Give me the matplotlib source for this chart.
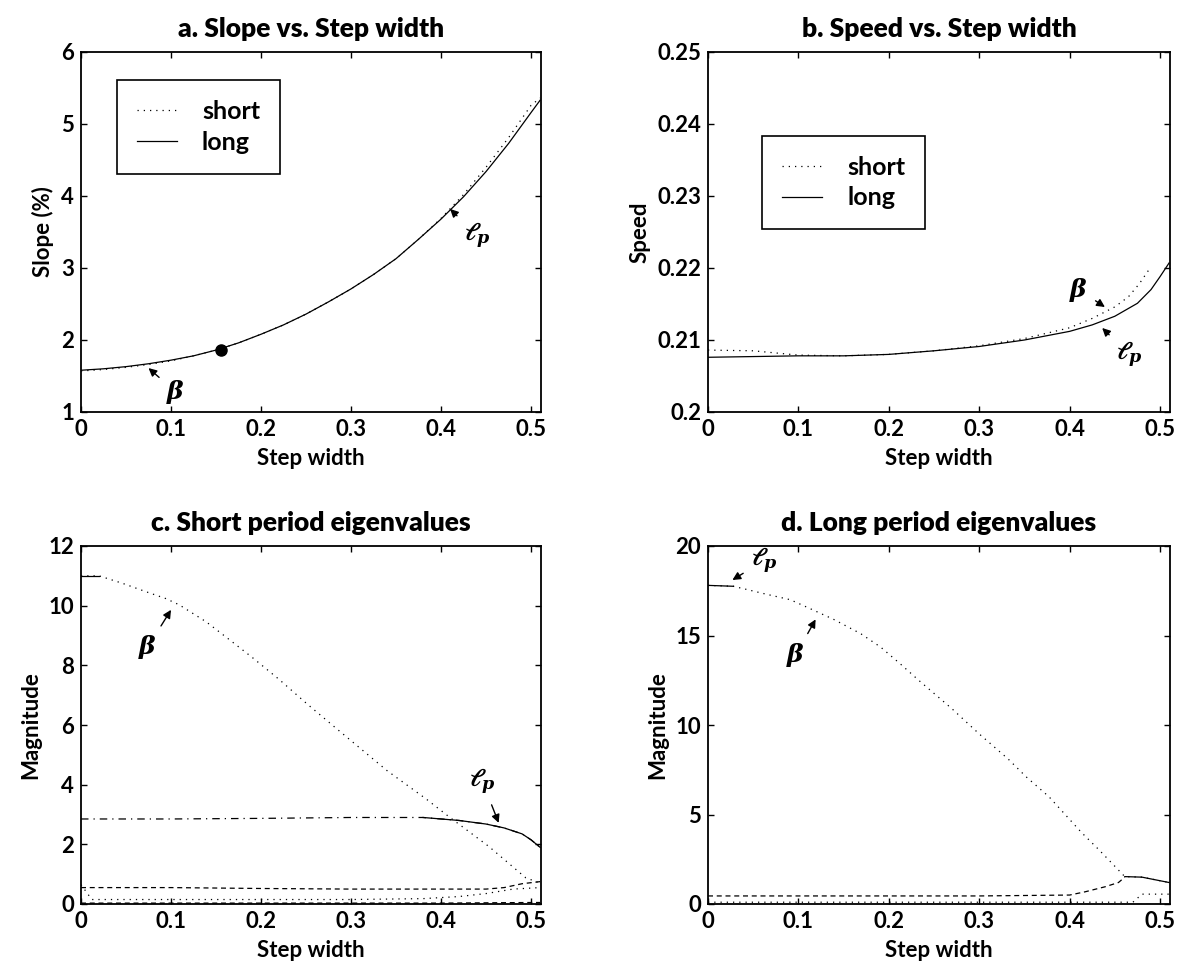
import matplotlib.pyplot as plt
import numpy as np

plt.rcParams['font.family'] = ['Lato', 'DejaVu Sans']
plt.rcParams['font.weight'] = 'bold'
plt.rcParams['axes.labelweight'] = 'bold'
plt.rcParams['axes.titleweight'] = 'heavy'
plt.rcParams['mathtext.fontset'] = 'dejavuserif'

# a. slope vs step width
step_a = [0, 0.025, 0.05, 0.075, 0.1, 0.125, 0.15, 0.175, 0.2, 0.225, 0.25,
          0.275, 0.3, 0.325, 0.35, 0.375, 0.4, 0.425, 0.45, 0.475, 0.5, 0.51]
slope_long = [1.58, 1.60, 1.63, 1.67, 1.72, 1.78, 1.86, 1.96, 2.08, 2.21, 2.36,
              2.53, 2.71, 2.91, 3.13, 3.40, 3.68, 3.99, 4.34, 4.73, 5.16, 5.33]
slope_short = [1.57, 1.59, 1.62, 1.66, 1.71, 1.78, 1.86, 1.96, 2.08, 2.21, 2.36,
               2.53, 2.71, 2.91, 3.13, 3.40, 3.69, 4.02, 4.40, 4.81, 5.26, 5.36]
chosen_step = [0.155]
chosen_slope = [1.86]

# b. speed vs step width
step_b_long = [0, 0.05, 0.1, 0.15, 0.2, 0.25, 0.3, 0.35, 0.4, 0.425, 0.45,
               0.475, 0.49, 0.5, 0.51]
speed_long = [0.2076, 0.2077, 0.2078, 0.2078, 0.2080, 0.2085, 0.2091, 0.2100,
              0.2112, 0.2121, 0.2133, 0.2151, 0.2170, 0.2188, 0.2207]
step_b_short = [0, 0.05, 0.1, 0.15, 0.2, 0.25, 0.3, 0.35, 0.4, 0.425, 0.45,
                0.465, 0.477, 0.489]
speed_short = [0.2086, 0.2085, 0.2079, 0.2078, 0.2080, 0.2085, 0.2092, 0.2102,
               0.2117, 0.2130, 0.2146, 0.2160, 0.2178, 0.2200]

# c. short period eigenvalues
c1_x = [0, 0.02, 0.046, 0.072, 0.094, 0.109, 0.139, 0.164, 0.19, 0.22, 0.251,
        0.283, 0.34, 0.383, 0.409, 0.453, 0.494, 0.51]
c1_y = [11.0, 11.0, 10.75, 10.47, 10.24, 10.03, 9.46, 8.88, 8.27, 7.53, 6.71,
        5.9, 4.47, 3.53, 2.92, 1.93, 0.88, 0.7]
c2_x = [0, 0.1, 0.2, 0.3, 0.38, 0.42, 0.45, 0.47, 0.49, 0.5, 0.51]
c2_y = [2.85, 2.85, 2.87, 2.9, 2.9, 2.8, 2.68, 2.55, 2.35, 2.15, 1.9]
c3_x = [0, 0.1, 0.2, 0.3, 0.4, 0.45, 0.47, 0.49, 0.51]
c3_y = [0.55, 0.55, 0.52, 0.5, 0.5, 0.5, 0.55, 0.68, 0.75]
c4_x = [0, 0.012, 0.1, 0.2, 0.3, 0.38, 0.42, 0.45, 0.48, 0.51]
c4_y = [0.65, 0.15, 0.15, 0.15, 0.15, 0.18, 0.25, 0.35, 0.5, 0.55]
c5_x = [0, 0.1, 0.2, 0.3, 0.4, 0.5, 0.51]
c5_y = [0.03, 0.03, 0.03, 0.03, 0.03, 0.05, 0.05]

# d. long period eigenvalues
d1_x = [0, 0.028, 0.043, 0.065, 0.091, 0.113, 0.139, 0.169, 0.191, 0.213, 0.233,
        0.27, 0.3, 0.332, 0.352, 0.377, 0.413, 0.432, 0.461, 0.48, 0.495, 0.51]
d1_y = [17.8, 17.75, 17.57, 17.3, 17.0, 16.5, 15.9, 15.1, 14.35, 13.4, 12.5,
        10.9, 9.5, 8.1, 7.1, 6.0, 4.0, 3.05, 1.53, 1.5, 1.35, 1.2]
d2_x = [0, 0.1, 0.2, 0.3, 0.4, 0.417, 0.439, 0.454, 0.461]
d2_y = [0.45, 0.45, 0.45, 0.45, 0.5, 0.68, 0.96, 1.2, 1.5]
d3_x = [0, 0.1, 0.2, 0.3, 0.4, 0.47, 0.48, 0.51]
d3_y = [0.1, 0.1, 0.1, 0.1, 0.1, 0.1, 0.55, 0.55]
d4_x = [0, 0.1, 0.2, 0.3, 0.4, 0.5, 0.51]
d4_y = [0.02, 0.02, 0.02, 0.02, 0.02, 0.02, 0.02]

xticks = [0, 0.1, 0.2, 0.3, 0.4, 0.5]
xticklabels = ['0', '0.1', '0.2', '0.3', '0.4', '0.5']

FS = 16
DOT = (0, (1, 4))
lw = 0.9


def style_axes(ax, title, ylabel):
    ax.set_xlim(0, 0.511)
    ax.set_xticks(xticks)
    ax.set_xticklabels(xticklabels)
    ax.tick_params(direction='in', top=True, right=True, length=4, width=1,
                   labelsize=FS, pad=5)
    for lab in ax.get_xticklabels() + ax.get_yticklabels():
        lab.set_fontweight('bold')
    for s in ax.spines.values():
        s.set_linewidth(1.3)
    ax.set_title(title, fontsize=19, fontweight='heavy', pad=11)
    ax.set_xlabel('Step width', fontsize=FS, fontweight='bold', labelpad=6)
    ax.set_ylabel(ylabel, fontsize=FS, fontweight='bold', labelpad=5)


def mark(ax, label, text_xy, head_xy):
    ax.annotate(label, xy=head_xy, xytext=text_xy, fontsize=18,
                ha='center', va='center',
                arrowprops=dict(arrowstyle='-|>', lw=1.0, color='black',
                                mutation_scale=12, shrinkA=4, shrinkB=0))


def add_legend(ax, anchor):
    leg = ax.legend(loc='upper left', bbox_to_anchor=anchor, fontsize=18,
                    fancybox=False, edgecolor='black', framealpha=1,
                    handlelength=1.6, handletextpad=1.0, borderpad=0.8,
                    labelspacing=0.3, borderaxespad=0)
    leg.get_frame().set_linewidth(1.2)
    for t in leg.get_texts():
        t.set_fontweight('bold')


def main():
    fig = plt.figure(figsize=(11.78, 9.73), dpi=100)
    W, H = 1178.0, 973.0
    ax_a = fig.add_axes([81 / W, 1 - 412 / H, 460 / W, 360 / H])
    ax_b = fig.add_axes([708 / W, 1 - 412 / H, 462 / W, 360 / H])
    ax_c = fig.add_axes([81 / W, 1 - 904 / H, 460 / W, 358 / H])
    ax_d = fig.add_axes([708 / W, 1 - 904 / H, 462 / W, 358 / H])

    # a
    ax_a.plot(step_a, slope_short, linestyle=DOT, color='black', lw=lw, label='short')
    ax_a.plot(step_a, slope_long, '-', color='black', lw=lw, label='long')
    ax_a.plot(chosen_step, chosen_slope, 'o', color='black', ms=8)
    ax_a.set_ylim(1, 6)
    ax_a.set_yticks([1, 2, 3, 4, 5, 6])
    style_axes(ax_a, 'a. Slope vs. Step width', 'Slope (%)')
    mark(ax_a, r'$\ell_p$', (0.44, 3.45), (0.41, 3.82))
    mark(ax_a, r'$\beta$', (0.105, 1.28), (0.075, 1.61))
    add_legend(ax_a, (0.078, 0.922))

    # b
    ax_b.plot(step_b_short, speed_short, linestyle=DOT, color='black', lw=lw, label='short')
    ax_b.plot(step_b_long, speed_long, '-', color='black', lw=lw, label='long')
    ax_b.set_ylim(0.2, 0.25)
    ax_b.set_yticks([0.2, 0.21, 0.22, 0.23, 0.24, 0.25])
    ax_b.set_yticklabels(['0.2', '0.21', '0.22', '0.23', '0.24', '0.25'])
    style_axes(ax_b, 'b. Speed vs. Step width', 'Speed')
    mark(ax_b, r'$\beta$', (0.41, 0.2170), (0.439, 0.21458))
    mark(ax_b, r'$\ell_p$', (0.466, 0.2080), (0.436, 0.21167))
    add_legend(ax_b, (0.117, 0.767))

    # c
    c1x, c1y = np.array(c1_x), np.array(c1_y)
    ax_c.plot(c1x, c1y, linestyle=DOT, color='black', lw=lw)
    ax_c.plot(c1x[c1x <= 0.02], c1y[c1x <= 0.02], '-', color='black', lw=lw)
    c2x, c2y = np.array(c2_x), np.array(c2_y)
    ax_c.plot(c2x, c2y, linestyle=(0, (6, 4, 1, 4)), color='black', lw=lw)
    ax_c.plot(c2x[c2x >= 0.38], c2y[c2x >= 0.38], '-', color='black', lw=lw)
    ax_c.plot(c3_x, c3_y, linestyle=(0, (4, 3)), color='black', lw=lw)
    ax_c.plot(c4_x, c4_y, linestyle=DOT, color='black', lw=lw)
    ax_c.plot(c5_x, c5_y, linestyle=(0, (4, 3)), color='black', lw=lw)
    ax_c.set_ylim(0, 12)
    ax_c.set_yticks([0, 2, 4, 6, 8, 10, 12])
    style_axes(ax_c, 'c. Short period eigenvalues', 'Magnitude')
    mark(ax_c, r'$\beta$', (0.074, 8.6), (0.1, 9.86))
    mark(ax_c, r'$\ell_p$', (0.446, 4.1), (0.464, 2.72))

    # d
    d1x, d1y = np.array(d1_x), np.array(d1_y)
    ax_d.plot(d1x, d1y, linestyle=DOT, color='black', lw=lw)
    ax_d.plot(d1x[d1x <= 0.028], d1y[d1x <= 0.028], '-', color='black', lw=lw)
    ax_d.plot(d1x[d1x >= 0.461], d1y[d1x >= 0.461], '-', color='black', lw=lw)
    ax_d.plot(d2_x, d2_y, linestyle=(0, (4, 3)), color='black', lw=lw)
    ax_d.plot(d3_x, d3_y, linestyle=DOT, color='black', lw=lw)
    ax_d.plot(d4_x, d4_y, linestyle=(0, (4, 3)), color='black', lw=lw)
    ax_d.set_ylim(0, 20)
    ax_d.set_yticks([0, 5, 10, 15, 20])
    style_axes(ax_d, 'd. Long period eigenvalues', 'Magnitude')
    mark(ax_d, r'$\ell_p$', (0.062, 19.2), (0.027, 18.1))
    mark(ax_d, r'$\beta$', (0.097, 13.9), (0.119, 15.9))

    fig.savefig('out.png', dpi=100)


if __name__ == "__main__":
    main()
